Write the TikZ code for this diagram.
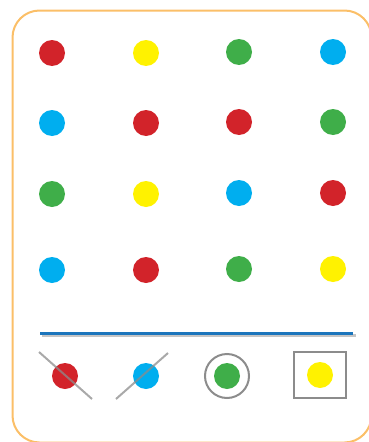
\documentclass[tikz,border=0pt]{standalone}
\usepackage{tikz}
\usetikzlibrary{positioning}
\definecolor{DotRed}{HTML}{D2232A}
\definecolor{DotYellow}{HTML}{FFF200}
\definecolor{DotGreen}{HTML}{3FAE49}
\definecolor{DotBlue}{HTML}{00AEEF}
\definecolor{FrameOrange}{HTML}{FBBF68}
\definecolor{RuleBlue}{HTML}{1B75BC}
\definecolor{MarkGray}{HTML}{8C8C8C}
\tikzset{
  dot/.style={circle,inner sep=0pt,minimum size=26pt},
  markline/.style={draw=MarkGray,line width=2pt,opacity=0.75}
}
\begin{document}
\begin{tikzpicture}[x=1pt,y=-1pt]
  \useasboundingbox (0,0) rectangle (368,442);
  \draw[FrameOrange,line width=2pt,rounded corners=27pt] (12.5,10.5) rectangle (371.5,442.5);
  % grid of dots
  \node[dot,fill=DotRed] (a1) at (52,53) {};
  \node[dot,fill=DotYellow] (a2) at (146,53) {};
  \node[dot,fill=DotGreen] (a3) at (239,52) {};
  \node[dot,fill=DotBlue] (a4) at (333,52) {};
  \node[dot,fill=DotBlue] (b1) at (52,123) {};
  \node[dot,fill=DotRed] (b2) at (146,123) {};
  \node[dot,fill=DotRed] (b3) at (239,122) {};
  \node[dot,fill=DotGreen] (b4) at (333,122) {};
  \node[dot,fill=DotGreen] (c1) at (52,194) {};
  \node[dot,fill=DotYellow] (c2) at (146,194) {};
  \node[dot,fill=DotBlue] (c3) at (239,193) {};
  \node[dot,fill=DotRed] (c4) at (333,193) {};
  \node[dot,fill=DotBlue] (d1) at (52,270) {};
  \node[dot,fill=DotRed] (d2) at (146,270) {};
  \node[dot,fill=DotGreen] (d3) at (239,269) {};
  \node[dot,fill=DotYellow] (d4) at (333,269) {};
  % divider
  \coordinate (ruleL) at (40,333);
  \coordinate (ruleR) at (353,333);
  \draw[black!45,line width=3pt,opacity=0.5] ([shift={(2,2)}]ruleL) -- ([shift={(3,2)}]ruleR);
  \draw[RuleBlue,line width=3pt] (ruleL) -- (ruleR);
  % legend
  \node[dot,fill=DotRed] (xred) at (65,376) {};
  \node[dot,fill=DotBlue] (xblue) at (146,376) {};
  \node[dot,fill=DotGreen] (keepgreen) at (227,376) {};
  \node[dot,fill=DotYellow] (keepyellow) at (320,375) {};
  \draw[markline] ([shift={(-26,-24)}]xred.center) -- ([shift={(27,23)}]xred.center);
  \draw[markline] ([shift={(-30,23)}]xblue.center) -- ([shift={(22,-23)}]xblue.center);
  \node[circle,draw=MarkGray,line width=2pt,minimum size=44pt,inner sep=0pt] (ring) at (keepgreen) {};
  \node[draw=MarkGray,line width=2pt,minimum width=52pt,minimum height=46pt,inner sep=0pt] (box) at (keepyellow) {};
\end{tikzpicture}
\end{document}
